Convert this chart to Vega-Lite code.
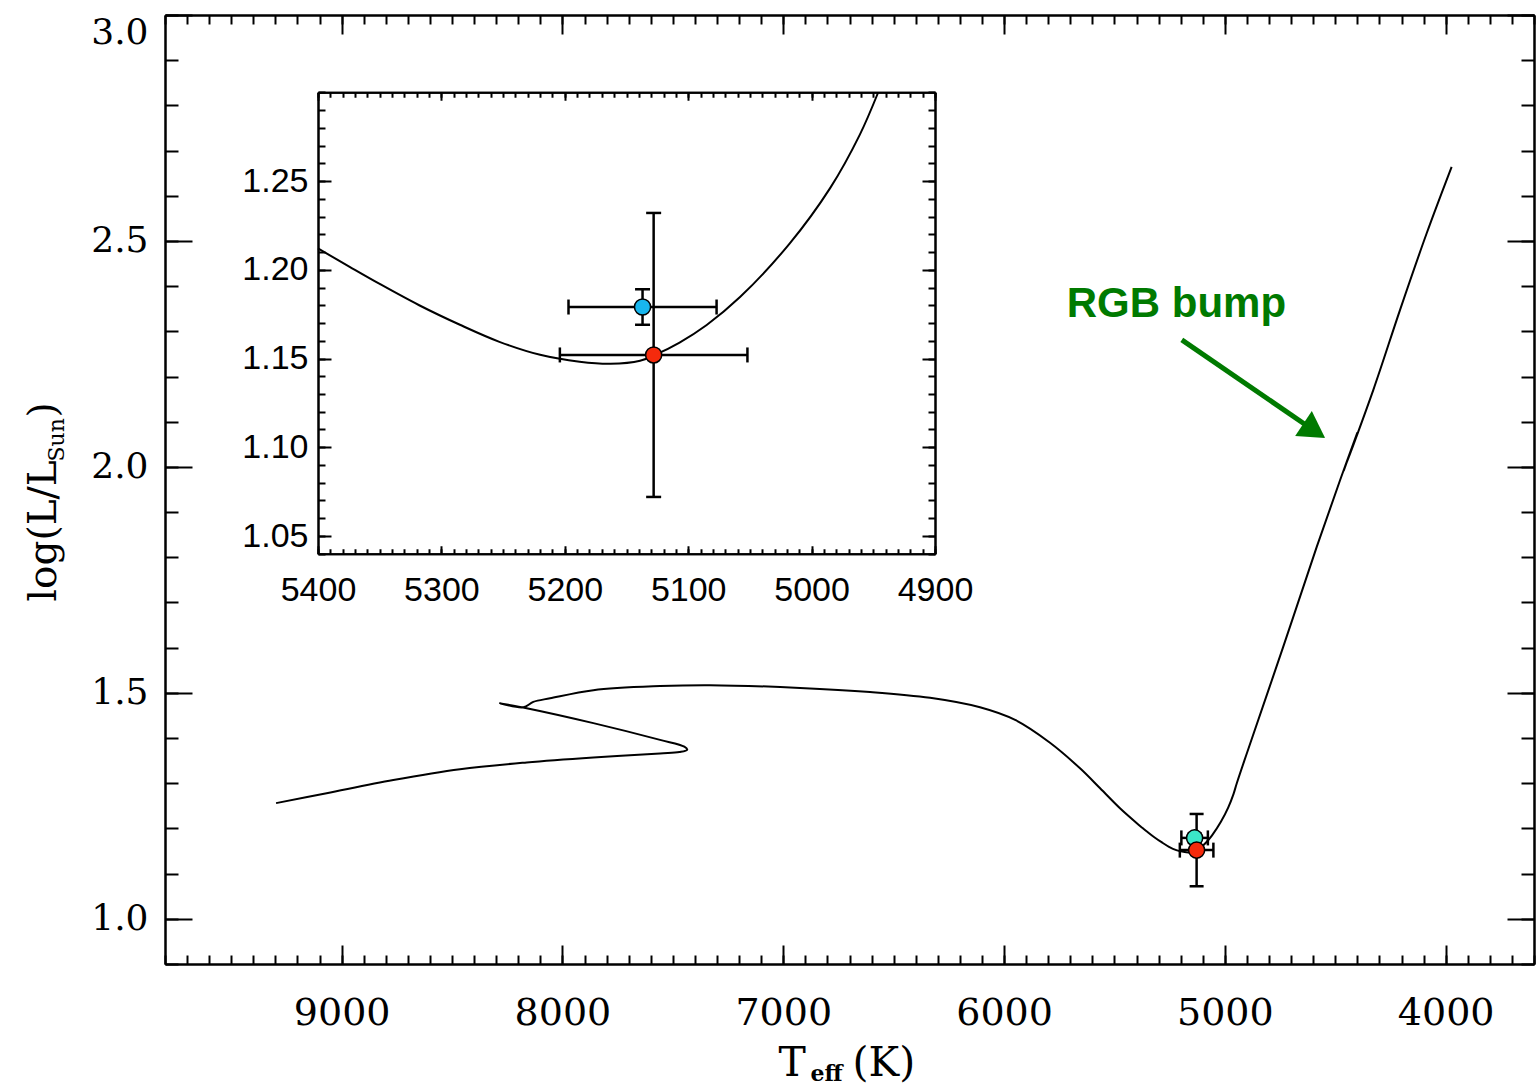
{
  "$schema": "https://vega.github.io/schema/vega-lite/v6.json",
  "width": 1369,
  "height": 949,
  "autosize": "none",
  "padding": {"left": 165, "top": 15, "right": 3, "bottom": 121},
  "background": "white",
  "config": {
    "view": {"stroke": null},
    "axis": {"grid": false, "domainColor": "black", "domainWidth": 2, "tickColor": "black", "tickWidth": 2, "labelColor": "black", "titleColor": "black", "titleFontWeight": "normal", "labelOverlap": false}
  },
  "datasets": {
    "track": [
      {"i": 1, "T": 9297, "L": 1.256}, {"i": 2, "T": 9068, "L": 1.278}, {"i": 3, "T": 8766, "L": 1.307},
      {"i": 4, "T": 8464, "L": 1.331}, {"i": 5, "T": 8162, "L": 1.346}, {"i": 6, "T": 7860, "L": 1.357},
      {"i": 7, "T": 7558, "L": 1.366}, {"i": 8, "T": 7470, "L": 1.369}, {"i": 9, "T": 7435, "L": 1.374},
      {"i": 10, "T": 7448, "L": 1.381}, {"i": 11, "T": 7558, "L": 1.396}, {"i": 12, "T": 7860, "L": 1.433},
      {"i": 13, "T": 8162, "L": 1.466}, {"i": 14, "T": 8283, "L": 1.477}, {"i": 15, "T": 8177, "L": 1.468},
      {"i": 16, "T": 8132, "L": 1.480}, {"i": 17, "T": 8056, "L": 1.488}, {"i": 18, "T": 7860, "L": 1.506},
      {"i": 19, "T": 7558, "L": 1.515}, {"i": 20, "T": 7332, "L": 1.517}, {"i": 21, "T": 6924, "L": 1.511},
      {"i": 22, "T": 6607, "L": 1.502}, {"i": 23, "T": 6335, "L": 1.489}, {"i": 24, "T": 6109, "L": 1.468},
      {"i": 25, "T": 5950, "L": 1.440}, {"i": 26, "T": 5792, "L": 1.3895}, {"i": 27, "T": 5656, "L": 1.333},
      {"i": 28, "T": 5565, "L": 1.2888}, {"i": 29, "T": 5475, "L": 1.2445}, {"i": 30, "T": 5400, "L": 1.212},
      {"i": 31, "T": 5374, "L": 1.2015}, {"i": 32, "T": 5350, "L": 1.192}, {"i": 33, "T": 5318, "L": 1.180},
      {"i": 34, "T": 5285, "L": 1.169}, {"i": 35, "T": 5253, "L": 1.1594}, {"i": 36, "T": 5220, "L": 1.1521},
      {"i": 37, "T": 5188, "L": 1.1482}, {"i": 38, "T": 5163, "L": 1.1470}, {"i": 39, "T": 5139, "L": 1.1487},
      {"i": 40, "T": 5127, "L": 1.152}, {"i": 41, "T": 5107, "L": 1.159}, {"i": 42, "T": 5085, "L": 1.1689},
      {"i": 43, "T": 5058, "L": 1.1846}, {"i": 44, "T": 5018, "L": 1.2146}, {"i": 45, "T": 4985, "L": 1.246},
      {"i": 46, "T": 4961, "L": 1.276}, {"i": 47, "T": 4946, "L": 1.300}, {"i": 48, "T": 4900, "L": 1.367},
      {"i": 49, "T": 4737, "L": 1.600}, {"i": 50, "T": 4584, "L": 1.823}, {"i": 51, "T": 4478, "L": 1.971},
      {"i": 52, "T": 4400, "L": 2.076}, {"i": 53, "T": 4462, "L": 1.991}, {"i": 54, "T": 4328, "L": 2.170},
      {"i": 55, "T": 4207, "L": 2.347}, {"i": 56, "T": 4086, "L": 2.517}, {"i": 57, "T": 3973, "L": 2.664}
    ],
    "stars": [
      {"star": "A", "T": 5137, "L": 1.179, "Tlo": 5077, "Thi": 5197, "Llo": 1.169, "Lhi": 1.189},
      {"star": "B", "T": 5128, "L": 1.152, "Tlo": 5052, "Thi": 5204, "Llo": 1.072, "Lhi": 1.232}
    ],
    "note": [{"label": "RGB bump", "T": 5716, "L": 2.332}],
    "arrow": [{"T": 5195, "L": 2.281, "T2": 4595, "L2": 2.080}]
  },
  "layer": [
    {
      "data": {"name": "track"},
      "mark": {"type": "line", "color": "black", "strokeWidth": 2, "interpolate": "catmull-rom"},
      "encoding": {
        "x": {"field": "T", "type": "quantitative", "scale": {"domain": [9800, 3600], "nice": false, "zero": false},
          "axis": {"orient": "bottom", "values": [9000, 8000, 7000, 6000, 5000, 4000], "format": "d", "tickSize": -19, "labelPadding": 79, "labelBaseline": "alphabetic", "labelFont": "DejaVu Serif", "labelFontSize": 38, "labelFlush": false,
            "title": "T", "titleFont": "DejaVu Serif", "titleFontSize": 41, "titleX": 613, "titleY": 111, "titleAlign": "left", "titleBaseline": "alphabetic"}},
        "y": {"field": "L", "type": "quantitative", "scale": {"domain": [0.9, 3.0], "nice": false, "zero": false},
          "axis": {"orient": "left", "values": [1.0, 1.5, 2.0, 2.5, 3.0], "format": ".1f", "tickSize": -27, "labelPadding": 44, "labelFont": "DejaVu Serif", "labelFontSize": 36, "labelFlush": true,
            "title": "log(L/L", "titleFont": "DejaVu Serif", "titleFontSize": 39, "titleAngle": -90, "titleX": -110, "titleY": 586, "titleAlign": "left", "titleBaseline": "alphabetic"}},
        "order": {"field": "i", "type": "quantitative"}
      }
    },
    {
      "data": {"name": "stars"},
      "mark": {"type": "rule", "color": "black", "strokeWidth": 2.5},
      "encoding": {
        "x": {"field": "Tlo", "type": "quantitative", "scale": {"domain": [9800, 3600], "nice": false, "zero": false},
          "axis": {"orient": "bottom", "tickCount": 62, "tickSize": -9, "labels": false,
            "title": "eff", "titleFont": "DejaVu Serif", "titleFontWeight": "bold", "titleFontSize": 22, "titleX": 645, "titleY": 116, "titleAlign": "left", "titleBaseline": "alphabetic"}},
        "x2": {"field": "Thi"},
        "y": {"field": "L", "type": "quantitative", "scale": {"domain": [0.9, 3.0], "nice": false, "zero": false},
          "axis": {"orient": "left", "tickCount": 21, "tickSize": -13, "labels": false,
            "title": "Sun", "titleFont": "DejaVu Serif", "titleFontSize": 22, "titleAngle": -90, "titleX": -102, "titleY": 446, "titleAlign": "left", "titleBaseline": "alphabetic"}}
      }
    },
    {
      "data": {"name": "stars"},
      "mark": {"type": "rule", "color": "black", "strokeWidth": 2.5},
      "encoding": {
        "x": {"field": "T", "type": "quantitative", "scale": {"domain": [9800, 3600], "nice": false, "zero": false},
          "axis": {"orient": "top", "values": [9000, 8000, 7000, 6000, 5000, 4000], "tickSize": -19, "labels": false,
            "title": "(K)", "titleFont": "DejaVu Serif", "titleFontSize": 41, "titleX": 687, "titleY": 1060, "titleAlign": "left", "titleBaseline": "alphabetic"}},
        "y": {"field": "Llo", "type": "quantitative", "scale": {"domain": [0.9, 3.0], "nice": false, "zero": false},
          "axis": {"orient": "right", "values": [1.0, 1.5, 2.0, 2.5, 3.0], "tickSize": -27, "labels": false,
            "title": ")", "titleFont": "DejaVu Serif", "titleFontSize": 39, "titleAngle": -90, "titleX": -1479, "titleY": 402, "titleAlign": "left", "titleBaseline": "alphabetic"}},
        "y2": {"field": "Lhi"}
      }
    },
    {
      "data": {"name": "stars"},
      "transform": [{"fold": ["Tlo", "Thi"], "as": ["k", "Tc"]}],
      "mark": {"type": "tick", "orient": "vertical", "color": "black", "size": 15, "thickness": 2.5, "opacity": 1},
      "encoding": {
        "x": {"field": "Tc", "type": "quantitative", "scale": {"domain": [9800, 3600], "nice": false, "zero": false},
          "axis": {"orient": "top", "tickCount": 62, "tickSize": -9, "labels": false, "title": null}},
        "y": {"field": "L", "type": "quantitative", "scale": {"domain": [0.9, 3.0], "nice": false, "zero": false},
          "axis": {"orient": "right", "tickCount": 21, "tickSize": -13, "labels": false, "title": null}}
      }
    },
    {
      "data": {"name": "stars"},
      "transform": [{"fold": ["Llo", "Lhi"], "as": ["k", "Lc"]}],
      "mark": {"type": "tick", "orient": "horizontal", "color": "black", "size": 14, "thickness": 2.5, "opacity": 1},
      "encoding": {
        "x": {"field": "T", "type": "quantitative", "scale": {"domain": [9800, 3600], "nice": false, "zero": false}, "axis": null},
        "y": {"field": "Lc", "type": "quantitative", "scale": {"domain": [0.9, 3.0], "nice": false, "zero": false}, "axis": null}
      }
    },
    {
      "data": {"name": "stars"},
      "mark": {"type": "circle", "size": 260, "stroke": "black", "strokeWidth": 1.5, "opacity": 1},
      "encoding": {
        "x": {"field": "T", "type": "quantitative", "scale": {"domain": [9800, 3600], "nice": false, "zero": false}, "axis": null},
        "y": {"field": "L", "type": "quantitative", "scale": {"domain": [0.9, 3.0], "nice": false, "zero": false}, "axis": null},
        "color": {"field": "star", "type": "nominal", "scale": {"domain": ["A", "B"], "range": ["#3BE6C8", "#F52A0C"]}, "legend": null}
      }
    },
    {
      "data": {"name": "arrow"},
      "mark": {"type": "rule", "color": "#007A00", "strokeWidth": 5},
      "encoding": {
        "x": {"field": "T", "type": "quantitative", "scale": {"domain": [9800, 3600], "nice": false, "zero": false}, "axis": null},
        "x2": {"field": "T2"},
        "y": {"field": "L", "type": "quantitative", "scale": {"domain": [0.9, 3.0], "nice": false, "zero": false}, "axis": null},
        "y2": {"field": "L2"}
      }
    },
    {
      "data": {"name": "arrow"},
      "mark": {"type": "point", "shape": "triangle-right", "angle": 33.7, "size": 900, "filled": true, "color": "#007A00", "opacity": 1},
      "encoding": {
        "x": {"field": "T2", "type": "quantitative", "scale": {"domain": [9800, 3600], "nice": false, "zero": false}, "axis": null},
        "y": {"field": "L2", "type": "quantitative", "scale": {"domain": [0.9, 3.0], "nice": false, "zero": false}, "axis": null}
      }
    },
    {
      "data": {"name": "note"},
      "mark": {"type": "text", "align": "left", "baseline": "alphabetic", "font": "Liberation Sans", "fontWeight": "bold", "fontSize": 42, "color": "#007A00"},
      "encoding": {
        "x": {"field": "T", "type": "quantitative", "scale": {"domain": [9800, 3600], "nice": false, "zero": false}, "axis": null},
        "y": {"field": "L", "type": "quantitative", "scale": {"domain": [0.9, 3.0], "nice": false, "zero": false}, "axis": null},
        "text": {"field": "label"}
      }
    },
    {
      "data": {"name": "track"},
      "transform": [{"filter": {"field": "T", "range": [4900, 5400]}}, {"filter": {"field": "L", "lte": 1.3}}],
      "mark": {"type": "line", "color": "black", "strokeWidth": 2, "interpolate": "catmull-rom"},
      "encoding": {
        "x": {"field": "T", "type": "quantitative", "scale": {"domain": [5400, 4900], "range": [153, 770], "nice": false, "zero": false},
          "axis": {"orient": "bottom", "offset": -410.25, "values": [5400, 5300, 5200, 5100, 5000, 4900], "format": "d", "tickSize": -8, "labelPadding": 55, "labelBaseline": "alphabetic", "labelFont": "Liberation Sans", "labelFontSize": 34, "labelFlush": false, "title": null}},
        "y": {"field": "L", "type": "quantitative", "scale": {"domain": [1.04, 1.30], "range": [538.75, 77.25], "nice": false, "zero": false},
          "axis": {"orient": "left", "offset": -153, "values": [1.05, 1.10, 1.15, 1.20, 1.25], "format": ".2f", "tickSize": -13, "labelPadding": 23, "labelFont": "Liberation Sans", "labelFontSize": 34, "labelFlush": false, "title": null}},
        "order": {"field": "i", "type": "quantitative"}
      }
    },
    {
      "data": {"name": "stars"},
      "mark": {"type": "rule", "color": "black", "strokeWidth": 2.5},
      "encoding": {
        "x": {"field": "Tlo", "type": "quantitative", "scale": {"domain": [5400, 4900], "range": [153, 770], "nice": false, "zero": false},
          "axis": {"orient": "bottom", "offset": -410.25, "tickCount": 50, "tickSize": -5, "labels": false, "title": null}},
        "x2": {"field": "Thi"},
        "y": {"field": "L", "type": "quantitative", "scale": {"domain": [1.04, 1.30], "range": [538.75, 77.25], "nice": false, "zero": false},
          "axis": {"orient": "left", "offset": -153, "tickCount": 26, "tickSize": -7, "labels": false, "title": null}}
      }
    },
    {
      "data": {"name": "stars"},
      "mark": {"type": "rule", "color": "black", "strokeWidth": 2.5},
      "encoding": {
        "x": {"field": "T", "type": "quantitative", "scale": {"domain": [5400, 4900], "range": [153, 770], "nice": false, "zero": false},
          "axis": {"orient": "top", "offset": -77.25, "values": [5400, 5300, 5200, 5100, 5000, 4900], "tickSize": -8, "labels": false, "title": null}},
        "y": {"field": "Llo", "type": "quantitative", "scale": {"domain": [1.04, 1.30], "range": [538.75, 77.25], "nice": false, "zero": false},
          "axis": {"orient": "right", "offset": -599, "values": [1.05, 1.10, 1.15, 1.20, 1.25], "tickSize": -13, "labels": false, "title": null}},
        "y2": {"field": "Lhi"}
      }
    },
    {
      "data": {"name": "stars"},
      "transform": [{"fold": ["Tlo", "Thi"], "as": ["k", "Tc"]}],
      "mark": {"type": "tick", "orient": "vertical", "color": "black", "size": 15, "thickness": 2.5, "opacity": 1},
      "encoding": {
        "x": {"field": "Tc", "type": "quantitative", "scale": {"domain": [5400, 4900], "range": [153, 770], "nice": false, "zero": false},
          "axis": {"orient": "top", "offset": -77.25, "tickCount": 50, "tickSize": -5, "labels": false, "title": null}},
        "y": {"field": "L", "type": "quantitative", "scale": {"domain": [1.04, 1.30], "range": [538.75, 77.25], "nice": false, "zero": false},
          "axis": {"orient": "right", "offset": -599, "tickCount": 26, "tickSize": -7, "labels": false, "title": null}}
      }
    },
    {
      "data": {"name": "stars"},
      "transform": [{"fold": ["Llo", "Lhi"], "as": ["k", "Lc"]}],
      "mark": {"type": "tick", "orient": "horizontal", "color": "black", "size": 15, "thickness": 2.5, "opacity": 1},
      "encoding": {
        "x": {"field": "T", "type": "quantitative", "scale": {"domain": [5400, 4900], "range": [153, 770], "nice": false, "zero": false}, "axis": null},
        "y": {"field": "Lc", "type": "quantitative", "scale": {"domain": [1.04, 1.30], "range": [538.75, 77.25], "nice": false, "zero": false}, "axis": null}
      }
    },
    {
      "data": {"name": "stars"},
      "mark": {"type": "circle", "size": 260, "stroke": "black", "strokeWidth": 1.5, "opacity": 1},
      "encoding": {
        "x": {"field": "T", "type": "quantitative", "scale": {"domain": [5400, 4900], "range": [153, 770], "nice": false, "zero": false}, "axis": null},
        "y": {"field": "L", "type": "quantitative", "scale": {"domain": [1.04, 1.30], "range": [538.75, 77.25], "nice": false, "zero": false}, "axis": null},
        "color": {"field": "star", "type": "nominal", "scale": {"domain": ["A", "B"], "range": ["#18B6EE", "#F52A0C"]}, "legend": null}
      }
    }
  ],
  "resolve": {
    "scale": {"x": "independent", "y": "independent", "color": "independent"},
    "axis": {"x": "independent", "y": "independent"}
  }
}
